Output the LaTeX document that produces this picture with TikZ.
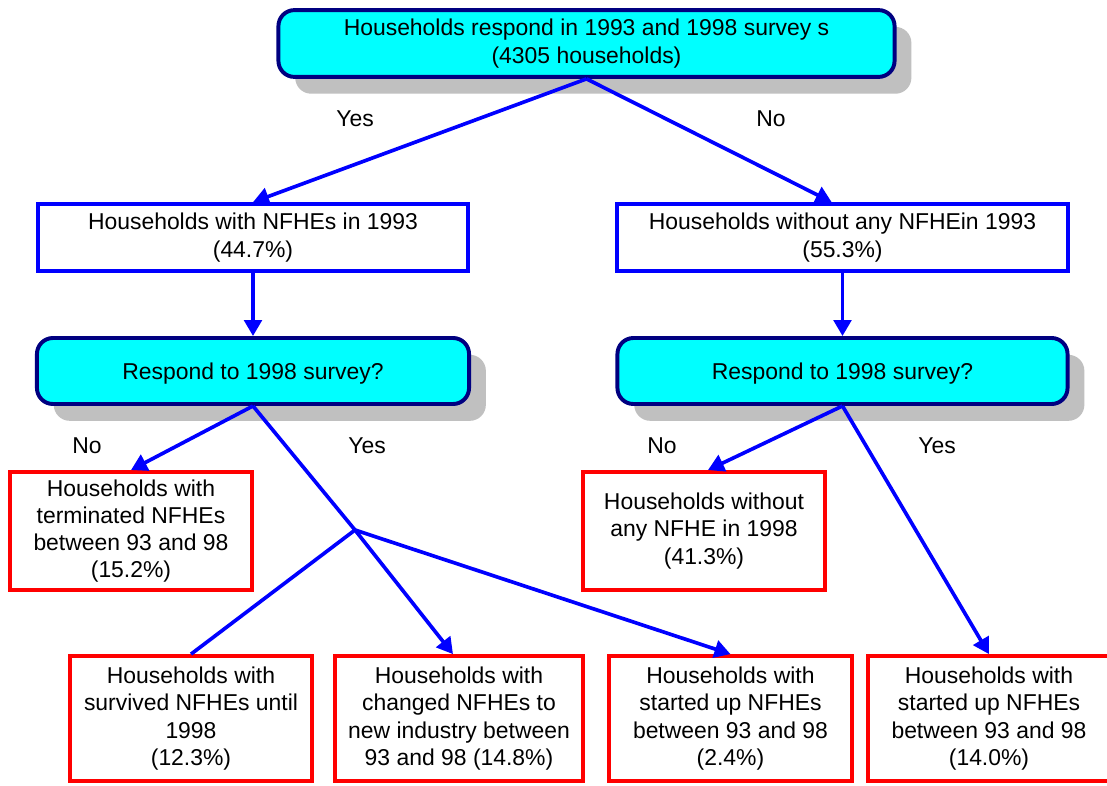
\documentclass[tikz,border=0pt]{standalone}
\usepackage{fontspec}
\setmainfont{Liberation Sans}
\usetikzlibrary{arrows.meta, shadows}
\definecolor{qcyan}{HTML}{00FFFF}
\definecolor{qnavy}{HTML}{000080}
\definecolor{lnblue}{HTML}{0000FF}
\definecolor{bxred}{HTML}{FF0000}
\definecolor{shgray}{HTML}{C0C0C0}

\tikzset{
  txt/.style={font=\fontsize{16.3}{19.4}\selectfont, align=center, inner sep=0pt,
    execute at begin node={\rule{0pt}{15.6pt}}},
  question/.style={txt, draw=qnavy, fill=qcyan, line width=2.8pt, rounded corners=0.4cm,
    drop shadow={shadow xshift=0.42cm, shadow yshift=-0.42cm, fill=shgray, opacity=1}},
  groupbox/.style={txt, draw=lnblue, fill=white, line width=2.8pt},
  outcome/.style={txt, draw=bxred, fill=white, line width=2.8pt, minimum height=2.95cm},
  link/.style={lnblue, line width=2.6pt},
  answer/.style={font=\fontsize{16.3}{19.4}\selectfont}
}

\begin{document}
\begin{tikzpicture}[x=0.025cm, y=-0.025cm, >={Triangle[length=0.4cm, width=0.44cm]}]

% Canvas
\useasboundingbox (0,0) rectangle (1107,785);
\fill[white] (0,0) rectangle (1107,785);

% Top question
\node[question, minimum width=15.4cm, minimum height=1.67cm] (top) at (586.5,43.5)
  {Households respond in 1993 and 1998 survey s\\(4305 households)};

% Groups in 1993
\node[groupbox, minimum width=10.75cm, minimum height=1.67cm] (with93) at (253,237.5)
  {Households with NFHEs in 1993\\(44.7\%)};
\node[groupbox, minimum width=11.25cm, minimum height=1.67cm] (none93) at (842.5,237.5)
  {Households without any NFHEin 1993\\(55.3\%)};

% Second questions
\node[question, minimum width=10.8cm, minimum height=1.65cm] (askL) at (253,371)
  {Respond to 1998 survey?};
\node[question, minimum width=11.25cm, minimum height=1.65cm] (askR) at (842.5,371)
  {Respond to 1998 survey?};

% Outcomes
\node[outcome, minimum width=6.05cm] (term) at (131,531)
  {Households with\\terminated NFHEs\\between 93 and 98\\(15.2\%)};
\node[outcome, minimum width=6.05cm] (noneR) at (704,531)
  {Households without\\any NFHE in 1998\\(41.3\%)};
\node[outcome, minimum width=6.05cm, minimum height=3.12cm] (surv) at (191,718.5)
  {Households with\\survived NFHEs until\\1998\\(12.3\%)};
\node[outcome, minimum width=6.2cm, minimum height=3.12cm] (chg) at (459,718.5)
  {Households with\\changed NFHEs to\\new industry between\\93 and 98 (14.8\%)};
\node[outcome, minimum width=6.07cm, minimum height=3.12cm] (startL) at (730.5,718.5)
  {Households with\\started up NFHEs\\between 93 and 98\\(2.4\%)};
\node[outcome, minimum width=6.05cm, minimum height=3.12cm] (startR) at (989,718.5)
  {Households with\\started up NFHEs\\between 93 and 98\\(14.0\%)};

% Answer labels
\node[answer] (y0) at (355,119) {Yes};
\node[answer] (n0) at (771,119) {No};
\node[answer] (n1) at (87,446) {No};
\node[answer] (y1) at (367,446) {Yes};
\node[answer] (n2) at (662,446) {No};
\node[answer] (y2) at (937,446) {Yes};

% Connectors
\coordinate (split) at (355,530);
\draw[link, ->] (top.south) -- (with93.north);
\draw[link, ->] (top.south) -- ([xshift=-0.27cm]none93.north);
\draw[link, ->] (with93.south) -- (askL.north);
\draw[link, ->] (none93.south) -- (askR.north);
\draw[link, ->] (askL.south) -- (term.north);
\draw[link] (askL.south) -- (split);
\draw[link] (split) -- (surv.north);
\draw[link, ->] (split) -- ([xshift=-0.15cm]chg.north);
\draw[link, ->] (split) -- (startL.north);
\draw[link, ->] (askR.south) -- ([xshift=0.1cm]noneR.north);
\draw[link, ->] (askR.south) -- (startR.north);

\end{tikzpicture}
\end{document}
